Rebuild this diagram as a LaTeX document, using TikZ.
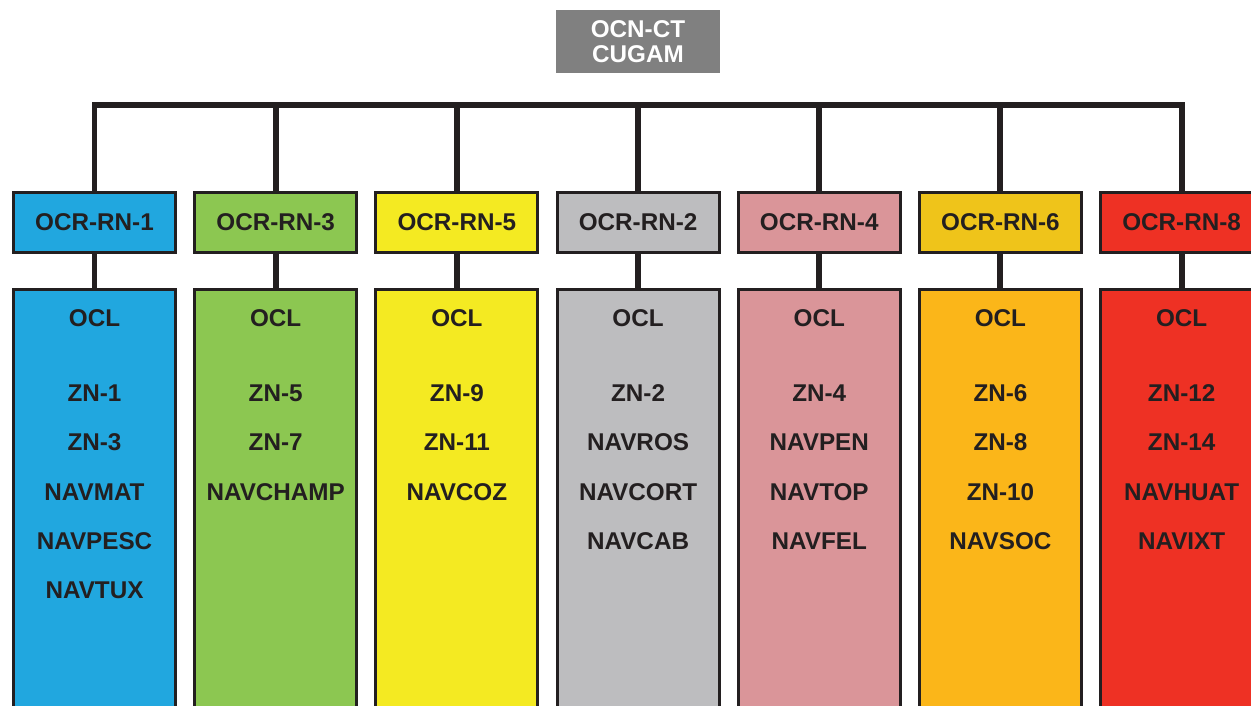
\documentclass[tikz,border=0pt]{standalone}
\usepackage{fontspec}
\setmainfont{Liberation Sans}
\usetikzlibrary{positioning}
\definecolor{ink}{HTML}{231F20}
\definecolor{topgray}{HTML}{808080}
\definecolor{rnblue}{HTML}{21A7DF}
\definecolor{rngreen}{HTML}{8CC751}
\definecolor{rnyellow}{HTML}{F4EA22}
\definecolor{rngray}{HTML}{BDBDBF}
\definecolor{rnpink}{HTML}{DA9599}
\definecolor{rngold}{HTML}{EFC41A}
\definecolor{rnorange}{HTML}{FBB619}
\definecolor{rnred}{HTML}{EE3124}

\begin{document}
\begin{tikzpicture}[
  node distance=0.68cm and 0.324cm,
  base/.style={
    rectangle, draw=ink, align=center,
    line width=1.7pt, text=ink,
    font=\fontsize{13.8}{16}\selectfont\bfseries
  },
  head/.style={
    base,
    minimum width=3.24cm,
    minimum height=1.2cm
  },
  body/.style={
    base,
    minimum width=3.24cm,
    minimum height=9cm
  },
  list/.style={
    align=center, inner sep=0pt, text=ink,
    font=\fontsize{13.8}{28.1}\selectfont\bfseries
  },
  top/.style={
    rectangle, fill=topgray, text=white, align=center,
    minimum width=3.28cm, minimum height=1.26cm,
    font=\fontsize{13.8}{14.2}\selectfont\bfseries
  },
  link/.style={draw=ink, line width=3.4pt}
]
\clip (0,0) rectangle (25.02,-14.12);

%% Top
\node[top] (ocn) at (12.76,-0.83) {OCN-CT\\CUGAM};

%% Regional headers
\node[head, fill=rnblue] (h1) at (1.89,-4.45) {OCR-RN-1};
\node[head, fill=rngreen, right=of h1] (h2) {OCR-RN-3};
\node[head, fill=rnyellow, right=of h2] (h3) {OCR-RN-5};
\node[head, fill=rngray, right=of h3] (h4) {OCR-RN-2};
\node[head, fill=rnpink, right=of h4] (h5) {OCR-RN-4};
\node[head, fill=rngold, right=of h5] (h6) {OCR-RN-6};
\node[head, fill=rnred, right=of h6] (h7) {OCR-RN-8};

%% Columns
\node[body, fill=rnblue, below=of h1] (b1) {};
\node[body, fill=rngreen, below=of h2] (b2) {};
\node[body, fill=rnyellow, below=of h3] (b3) {};
\node[body, fill=rngray, below=of h4] (b4) {};
\node[body, fill=rnpink, below=of h5] (b5) {};
\node[body, fill=rnorange, below=of h6] (b6) {};
\node[body, fill=rnred, below=of h7] (b7) {};

%% Column contents
\node[list, below=0.43cm of b1.north] (l1) {%
  OCL\\[14.4pt]
  ZN-1\\ ZN-3\\ NAVMAT\\ NAVPESC\\ NAVTUX};
\node[list, below=0.43cm of b2.north] (l2) {%
  OCL\\[14.4pt]
  ZN-5\\ ZN-7\\ NAVCHAMP};
\node[list, below=0.43cm of b3.north] (l3) {%
  OCL\\[14.4pt]
  ZN-9\\ ZN-11\\ NAVCOZ};
\node[list, below=0.43cm of b4.north] (l4) {%
  OCL\\[14.4pt]
  ZN-2\\ NAVROS\\ NAVCORT\\ NAVCAB};
\node[list, below=0.43cm of b5.north] (l5) {%
  OCL\\[14.4pt]
  ZN-4\\ NAVPEN\\ NAVTOP\\ NAVFEL};
\node[list, below=0.43cm of b6.north] (l6) {%
  OCL\\[14.4pt]
  ZN-6\\ ZN-8\\ ZN-10\\ NAVSOC};
\node[list, below=0.43cm of b7.north] (l7) {%
  OCL\\[14.4pt]
  ZN-12\\ ZN-14\\ NAVHUAT\\ NAVIXT};

%% --- Links ---
\coordinate (bar) at (0,-2.1);
\draw[link] (h1.north) -- (h1 |- bar) -- (h7 |- bar) -- (h7.north);
\draw[link] (h2 |- bar) -- (h2.north);
\draw[link] (h3 |- bar) -- (h3.north);
\draw[link] (h4 |- bar) -- (h4.north);
\draw[link] (h5 |- bar) -- (h5.north);
\draw[link] (h6 |- bar) -- (h6.north);

\draw[link] (h1) -- (b1);
\draw[link] (h2) -- (b2);
\draw[link] (h3) -- (b3);
\draw[link] (h4) -- (b4);
\draw[link] (h5) -- (b5);
\draw[link] (h6) -- (b6);
\draw[link] (h7) -- (b7);

\end{tikzpicture}
\end{document}
